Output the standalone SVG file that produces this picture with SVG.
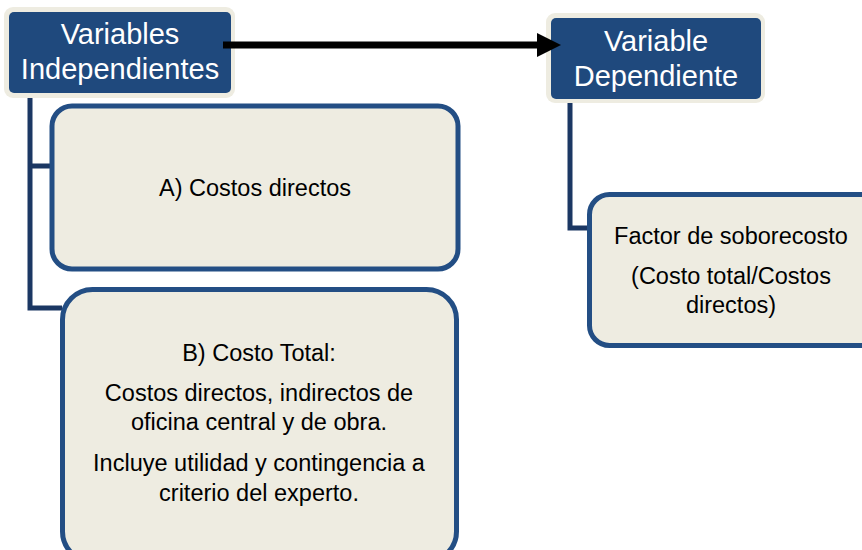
<svg xmlns="http://www.w3.org/2000/svg" width="862" height="550" viewBox="0 0 862 550">
<defs>
<style>
.hdr-bg{fill:#EEECE1}
.hdr{fill:#1F497D}
.hdr-t{font-family:"Liberation Sans",Arial,sans-serif;font-size:29px;fill:#FFFFFF;text-anchor:middle}
.box{fill:#EEECE1;stroke:#234E84;stroke-width:5}
.box-t{font-family:"Liberation Sans",Arial,sans-serif;font-size:23.5px;fill:#000000;text-anchor:middle}
.conn{fill:none;stroke:#1B3763;stroke-width:5}
</style>
</defs>
<rect width="862" height="550" fill="#FFFFFF"/>
<g id="connectors">
<path class="conn" d="M30,93 V308 H62 M30,166 H52"/>
<path class="conn" d="M570,99 V228 H590"/>
</g>
<g id="node-independientes">
<rect class="hdr-bg" x="4" y="7" width="231" height="91" rx="9"/>
<rect class="hdr" x="9" y="12" width="222" height="81" rx="5"/>
<text class="hdr-t" x="120" y="44">Variables</text>
<text class="hdr-t" x="120" y="79">Independientes</text>
</g>
<g id="node-dependiente">
<rect class="hdr-bg" x="546" y="13" width="219" height="90" rx="9"/>
<rect class="hdr" x="551" y="18" width="210" height="81" rx="5"/>
<text class="hdr-t" x="656" y="51">Variable</text>
<text class="hdr-t" x="656" y="86">Dependiente</text>
</g>
<g id="arrow">
<line x1="223" y1="45" x2="539" y2="45" stroke="#000000" stroke-width="7"/>
<polygon points="537,33 561,45 537,57" fill="#000000"/>
</g>
<g id="node-a">
<rect class="box" x="52" y="106" width="406" height="163" rx="20"/>
<text class="box-t" x="255" y="196">A) Costos directos</text>
</g>
<g id="node-b">
<rect class="box" x="62.5" y="289.5" width="394" height="272" rx="30"/>
<text class="box-t" x="259" y="361">B) Costo Total:</text>
<text class="box-t" x="259" y="401">Costos directos, indirectos de</text>
<text class="box-t" x="259" y="430">oficina central y de obra.</text>
<text class="box-t" x="259" y="471">Incluye utilidad y contingencia a</text>
<text class="box-t" x="259" y="501">criterio del experto.</text>
</g>
<g id="node-factor">
<rect class="box" x="589.5" y="194.5" width="300" height="151" rx="20"/>
<text class="box-t" x="731" y="244">Factor de soborecosto</text>
<text class="box-t" x="731" y="284">(Costo total/Costos</text>
<text class="box-t" x="731" y="313">directos)</text>
</g>
</svg>
